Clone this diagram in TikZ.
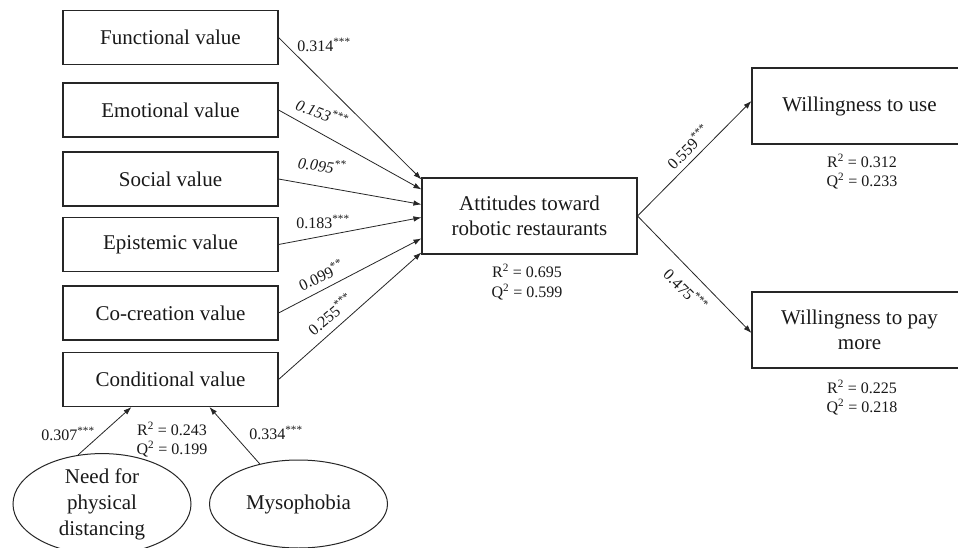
\documentclass[tikz,border=0pt]{standalone}
\usepackage{fontspec}
\setmainfont{Liberation Serif}
\usetikzlibrary{arrows.meta,shapes.geometric,calc}
\begin{document}
\begin{tikzpicture}[x=1pt,y=-1pt,
  box/.style={draw=black!85,line width=1.1pt,minimum width=215pt,inner sep=0pt,
    font=\fontsize{21}{25}\selectfont,align=center,text=black!90},
  lbox/.style={box,minimum height=54pt},
  bbox/.style={box,minimum height=76pt},
  oval/.style={ellipse,draw=black!85,line width=1pt,minimum width=178pt,minimum height=88pt,
    inner sep=0pt,font=\fontsize{21}{26}\selectfont,align=center,text=black!90},
  coef/.style={font=\fontsize{16}{19}\selectfont,inner sep=0pt,text=black!90},
  stat/.style={font=\fontsize{16}{19.5}\selectfont,align=center,inner sep=0pt,text=black!90},
  arr/.style={draw=black!85,line width=0.8pt,-{Latex[length=8pt,width=5.5pt]}}]
\useasboundingbox (0,0) rectangle (958,548);
\clip (0,0) rectangle (958,548);
\fill[white] (0,0) rectangle (958,548);
% left boxes
\node[lbox] (fun) at (170.5,37.5) {Functional value};
\node[lbox] (emo) at (170.5,110) {Emotional value};
\node[lbox] (soc) at (170.5,179) {Social value};
\node[lbox] (epi) at (170.5,244.5) {Epistemic value};
\node[lbox] (cocr) at (170.5,313) {Co-creation value};
\node[lbox] (cond) at (170.5,379.5) {Conditional value};
% central and outcomes
\node[bbox] (att) at (529.5,216) {Attitudes toward\\robotic restaurants};
\node[bbox] (wtu) at (859.5,106) {Willingness to use};
\node[bbox] (wpm) at (859.5,330) {Willingness to pay\\more};
% antecedents
\node[oval] (need) at (102,504) {Need for\\physical\\distancing};
\node[oval] (myso) at (298.5,504) {Mysophobia};
% connectors
\draw[arr] (fun.east) -- ($(att.north west)+(0,2)$);
\draw[arr] (emo.east) -- ($(att.north west)+(0,12)$);
\draw[arr] (soc.east) -- ($(att.north west)+(0,27)$);
\draw[arr] (epi.east) -- ($(att.north west)+(0,40)$);
\draw[arr] (cocr.east) -- ($(att.north west)+(0,61)$);
\draw[arr] (cond.east) -- ($(att.north west)+(0,75)$);
\draw[arr] (att.east) -- ($(wtu.west)+(0,-5)$);
\draw[arr] (att.east) -- ($(wpm.west)+(0,3)$);
\draw[arr] (need.116) -- ($(cond.south west)+(69,0)$);
\draw[arr] (myso.134) -- ($(cond.south west)+(147,0)$);
% coefficients
\node[coef] (l1) at (324,45) {0.314\textsuperscript{***}};
\node[coef,rotate=-21] (l2) at (322,113) {\itshape 0.153\textsuperscript{***}};
\node[coef,rotate=-8] (l3) at (322,165) {\itshape 0.095\textsuperscript{**}};
\node[coef] (l4) at (323,222) {0.183\textsuperscript{***}};
\node[coef,rotate=25] (l5) at (321,275) {0.099\textsuperscript{**}};
\node[coef,rotate=40] (l6) at (330,314) {0.255\textsuperscript{***}};
\node[coef,rotate=45] (l7) at (688,147) {0.559\textsuperscript{***}};
\node[coef,rotate=-45] (l8) at (686,290) {0.475\textsuperscript{***}};
\node[coef] (l9) at (68,434) {0.307\textsuperscript{***}};
\node[coef] (l10) at (276,433) {0.334\textsuperscript{***}};
% R2 / Q2
\node[stat] (s1) at (527,282) {R\textsuperscript{2} = 0.695\\Q\textsuperscript{2} = 0.599};
\node[stat] (s2) at (862,171.5) {R\textsuperscript{2} = 0.312\\Q\textsuperscript{2} = 0.233};
\node[stat] (s3) at (862,397.5) {R\textsuperscript{2} = 0.225\\Q\textsuperscript{2} = 0.218};
\node[stat] (s4) at (172,439.5) {R\textsuperscript{2} = 0.243\\Q\textsuperscript{2} = 0.199};
\end{tikzpicture}
\end{document}
